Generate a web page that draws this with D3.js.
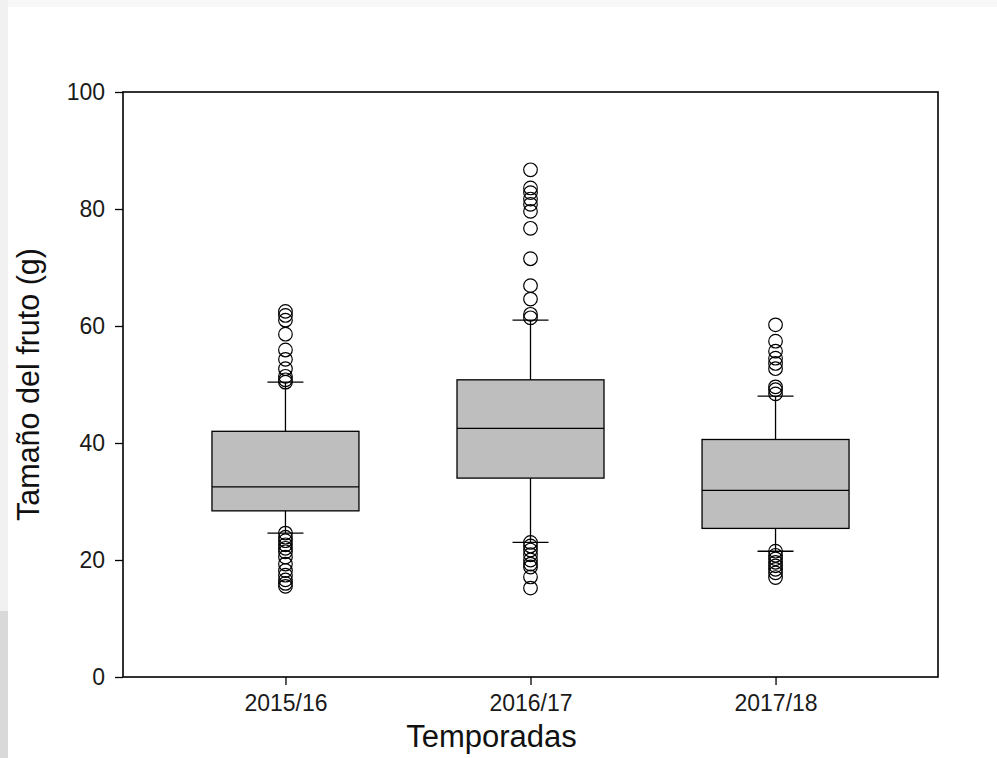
<!DOCTYPE html>
<html><head><meta charset="utf-8">
<script src="https://cdn.jsdelivr.net/npm/d3@7"></script>
<style>
html,body{margin:0;padding:0;background:#fff;}
svg{display:block;}
</style></head>
<body>
<svg id="chart" width="997" height="758"></svg>
<script>
const categories = ["2015/16", "2016/17", "2017/18"];
const q1 = [28.4, 34.0, 25.4];
const medians = [32.5, 42.5, 31.9];
const q3 = [42.0, 50.8, 40.6];
const whiskerLow = [24.6, 23.0, 21.5];
const whiskerHigh = [50.4, 61.0, 48.0];
const outliersHigh = [
  [62.5, 61.8, 61.0, 58.6, 55.9, 54.3, 52.7, 51.4, 50.8, 50.4],
  [86.7, 83.6, 82.8, 81.7, 80.8, 79.6, 76.7, 71.5, 66.9, 64.6, 62.0, 61.4],
  [60.2, 57.4, 55.7, 54.5, 53.6, 52.7, 49.6, 49.1, 48.4]
];
const outliersLow = [
  [24.6, 23.9, 23.3, 22.6, 22.0, 21.4, 20.5, 19.3, 18.2, 17.4, 16.6, 16.0, 15.5],
  [23.0, 22.4, 21.7, 20.9, 20.0, 19.3, 18.8, 17.1, 15.2],
  [21.5, 20.8, 20.2, 19.6, 19.0, 18.4, 17.8, 17.0]
];
const yTicks = [0, 20, 40, 60, 80, 100];

(function(){
const svg = d3.select("#chart");
svg.append("rect").attr("x",0).attr("y",0).attr("width",997).attr("height",7).attr("fill","#f8f8f8");
svg.append("rect").attr("x",0).attr("y",0).attr("width",8).attr("height",611).attr("fill","#f1f1f1");
svg.append("rect").attr("x",0).attr("y",611).attr("width",8).attr("height",147).attr("fill","#d9d9d9");

const mLeft = 123, mRight = 938, mTop = 92, mBottom = 677;
const x = d3.scalePoint().domain(categories).range([mLeft, mRight]).padding(0.663);
const y = d3.scaleLinear().domain([0, 100]).range([mBottom, mTop]);
const boxW = 147, capW = 36, r = 6.8;
const font = "'Liberation Sans', Arial, sans-serif";

categories.forEach((c, i) => {
  const cx = x(c);
  const g = svg.append("g");
  g.append("line").attr("x1",cx).attr("x2",cx).attr("y1",y(q3[i])).attr("y2",y(whiskerHigh[i])).attr("stroke","#000").attr("stroke-width",1.3);
  g.append("line").attr("x1",cx).attr("x2",cx).attr("y1",y(q1[i])).attr("y2",y(whiskerLow[i])).attr("stroke","#000").attr("stroke-width",1.3);
  g.append("line").attr("x1",cx-capW/2).attr("x2",cx+capW/2).attr("y1",y(whiskerHigh[i])).attr("y2",y(whiskerHigh[i])).attr("stroke","#000").attr("stroke-width",1.3);
  g.append("line").attr("x1",cx-capW/2).attr("x2",cx+capW/2).attr("y1",y(whiskerLow[i])).attr("y2",y(whiskerLow[i])).attr("stroke","#000").attr("stroke-width",1.3);
  g.append("rect").attr("x",cx-boxW/2).attr("y",y(q3[i])).attr("width",boxW).attr("height",y(q1[i])-y(q3[i]))
    .attr("fill","#bebebe").attr("stroke","#000").attr("stroke-width",1.3);
  g.append("line").attr("x1",cx-boxW/2).attr("x2",cx+boxW/2).attr("y1",y(medians[i])).attr("y2",y(medians[i])).attr("stroke","#000").attr("stroke-width",1.3);
  outliersHigh[i].concat(outliersLow[i]).forEach(v => {
    g.append("circle").attr("cx",cx).attr("cy",y(v)).attr("r",r).attr("fill","none").attr("stroke","#000").attr("stroke-width",1.2);
  });
});

svg.append("rect").attr("x",mLeft).attr("y",mTop).attr("width",mRight-mLeft).attr("height",mBottom-mTop)
  .attr("fill","none").attr("stroke","#000").attr("stroke-width",1.6);

const yAxis = svg.append("g").attr("transform",`translate(${mLeft},0)`)
  .call(d3.axisLeft(y).tickValues(yTicks).tickSize(8).tickPadding(10));
const xAxis = svg.append("g").attr("transform",`translate(0,${mBottom})`)
  .call(d3.axisBottom(x).tickSize(8).tickPadding(10));
[yAxis, xAxis].forEach(a => {
  a.select(".domain").remove();
  a.selectAll(".tick line").attr("stroke","#000").attr("stroke-width",1.3);
  a.selectAll(".tick text").attr("fill","#1a1a1a").style("font-family",font).style("font-size","23px");
});

svg.append("text").attr("x",(mLeft+mRight)/2 - 39).attr("y",747).attr("text-anchor","middle").attr("fill","#111")
  .style("font-family",font).style("font-size","31px").text("Temporadas");
svg.append("text").attr("transform",`translate(39,${(mTop+mBottom)/2}) rotate(-90)`).attr("text-anchor","middle").attr("fill","#111")
  .style("font-family",font).style("font-size","30.5px").text("Tamaño del fruto (g)");
})();
</script>
</body></html>
